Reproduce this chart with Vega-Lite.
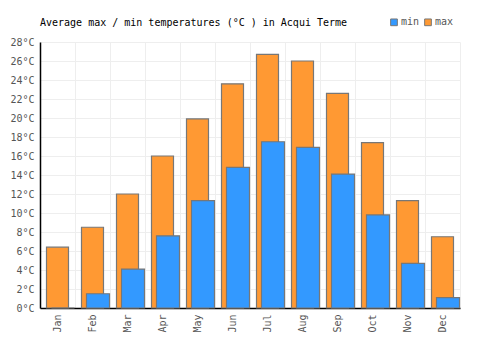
{
  "$schema": "https://vega.github.io/schema/vega-lite/v6.json",
  "width": 420,
  "height": 266,
  "autosize": "none",
  "padding": {"left": 40, "top": 42, "right": 40, "bottom": 42},
  "background": "white",
  "title": {"text": "Average max / min temperatures (°C ) in Acqui Terme", "anchor": "start", "frame": "group", "font": "DejaVu Sans Mono", "fontSize": 10, "fontWeight": "normal", "color": "#000", "offset": -11},
  "config": {
    "view": {"stroke": null},
    "font": "DejaVu Sans Mono"
  },
  "data": {"values": [
    {"month": "Jan", "series": "max", "temp": 6.4}, {"month": "Jan", "series": "min", "temp": 0},
    {"month": "Feb", "series": "max", "temp": 8.5}, {"month": "Feb", "series": "min", "temp": 1.5},
    {"month": "Mar", "series": "max", "temp": 12.0}, {"month": "Mar", "series": "min", "temp": 4.1},
    {"month": "Apr", "series": "max", "temp": 16.0}, {"month": "Apr", "series": "min", "temp": 7.6},
    {"month": "May", "series": "max", "temp": 19.9}, {"month": "May", "series": "min", "temp": 11.3},
    {"month": "Jun", "series": "max", "temp": 23.6}, {"month": "Jun", "series": "min", "temp": 14.8},
    {"month": "Jul", "series": "max", "temp": 26.7}, {"month": "Jul", "series": "min", "temp": 17.5},
    {"month": "Aug", "series": "max", "temp": 26.0}, {"month": "Aug", "series": "min", "temp": 16.9},
    {"month": "Sep", "series": "max", "temp": 22.6}, {"month": "Sep", "series": "min", "temp": 14.1},
    {"month": "Oct", "series": "max", "temp": 17.4}, {"month": "Oct", "series": "min", "temp": 9.8},
    {"month": "Nov", "series": "max", "temp": 11.3}, {"month": "Nov", "series": "min", "temp": 4.7},
    {"month": "Dec", "series": "max", "temp": 7.5}, {"month": "Dec", "series": "min", "temp": 1.1}
  ]},
  "encoding": {
    "x": {"field": "month", "type": "nominal", "sort": null,
      "scale": {"paddingInner": 0, "paddingOuter": 0},
      "axis": {"title": null, "labelAngle": 270, "labelAlign": "right", "labelBaseline": "middle", "labelPadding": 6, "labelFontSize": 10, "labelColor": "#555", "ticks": false, "domainColor": "#000", "domainWidth": 1.5, "grid": true, "gridColor": "#eeeeee", "tickBand": "extent"}},
    "y": {"field": "temp", "type": "quantitative",
      "scale": {"domain": [0, 28], "nice": false},
      "axis": {"title": null, "values": [0,2,4,6,8,10,12,14,16,18,20,22,24,26,28], "labelExpr": "datum.value + '°C'", "labelFontSize": 10, "labelColor": "#555", "ticks": false, "labelPadding": 6, "domainColor": "#000", "domainWidth": 1.5, "gridColor": "#eeeeee"}},
    "color": {"field": "series", "type": "nominal",
      "scale": {"domain": ["min", "max"], "range": ["#3399ff", "#ff9933"]},
      "legend": {"title": null, "orient": "none", "legendX": 349, "legendY": -25, "direction": "horizontal", "symbolType": "square", "symbolSize": 45, "symbolStrokeColor": "#777", "symbolStrokeWidth": 1, "labelFontSize": 10, "labelColor": "#555", "columnPadding": 2, "labelOffset": 2}}
  },
  "layer": [
    {"transform": [{"filter": "datum.series === 'max'"}],
     "mark": {"type": "bar", "size": 22, "stroke": "#777", "strokeWidth": 1.2}},
    {"transform": [{"filter": "datum.series === 'min'"}],
     "mark": {"type": "bar", "size": 23, "xOffset": 5.5, "stroke": "#777", "strokeWidth": 1.2}}
  ]
}
